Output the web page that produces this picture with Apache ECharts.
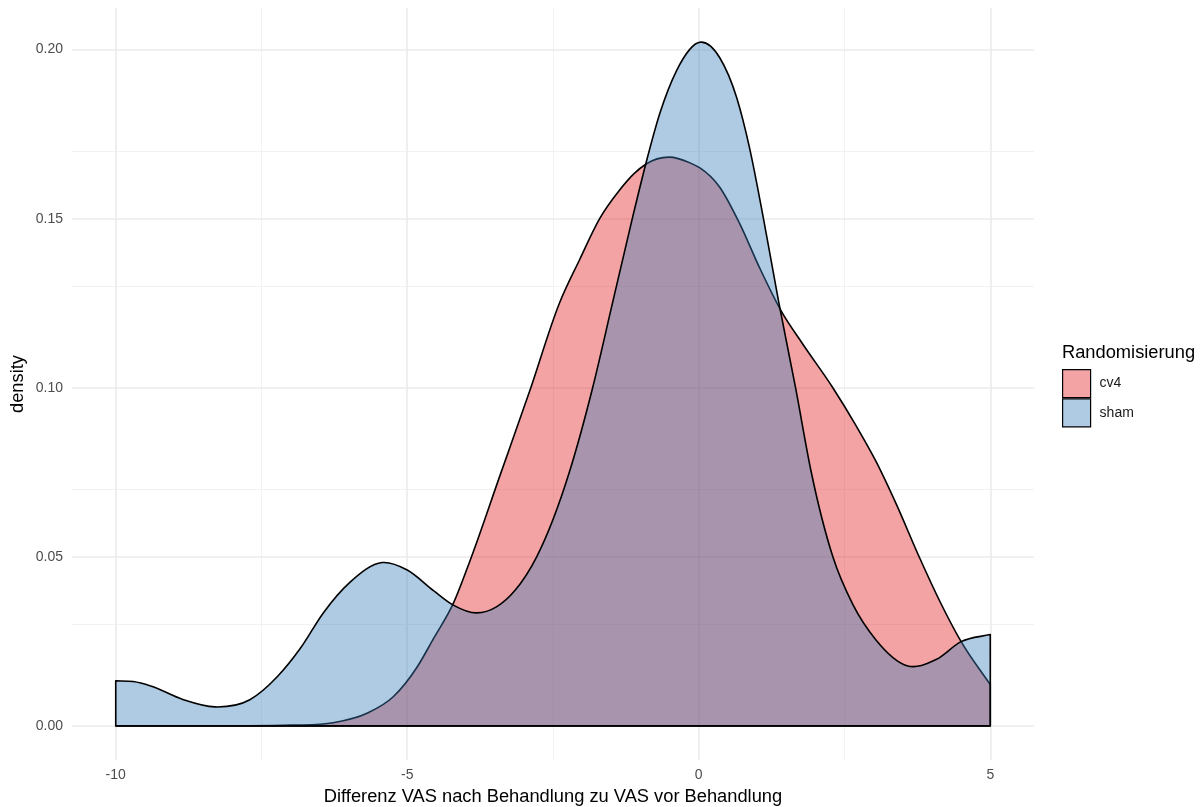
<!DOCTYPE html>
<html>
<head>
<meta charset="utf-8">
<script src="https://cdn.jsdelivr.net/npm/echarts@6/dist/echarts.min.js"></script>
<style>
html,body{margin:0;padding:0;background:#fff;overflow:hidden;}
#chart{width:1203px;height:807px;}
</style>
</head>
<body>
<div id="chart"></div>
<script>
// ---- data ----
const groups = ['cv4', 'sham'];
const xTicks = [-10, -5, 0, 5];
const xMinor = [-7.5, -2.5, 2.5];
const yTicks = [0, 0.05, 0.10, 0.15, 0.20];
const yMinor = [0.025, 0.075, 0.125, 0.175];

const cv4X = [-10, -8, -7, -6.27, -5.68, -5.24, -4.83, -4.55, -4.21, -3.92, -3.41, -2.90, -2.39, -2.04, -1.70, -1.36, -1.11, -0.91, -0.51, -0.15, 0.02, 0.36, 0.70, 1.04, 1.42, 1.78, 2.30, 2.70, 3.04, 3.39, 3.78, 4.13, 4.50, 5.0];
const cv4Y = [0.0000, 0.0000, 0.0002, 0.0009, 0.0038, 0.0086, 0.0174, 0.0258, 0.0362, 0.049, 0.074, 0.099, 0.125, 0.138, 0.150, 0.1584, 0.1633, 0.1661, 0.1682, 0.1665, 0.1650, 0.1593, 0.1486, 0.1356, 0.1225, 0.113, 0.100, 0.0887, 0.0782, 0.0655, 0.050, 0.037, 0.0249, 0.0122];

const shamX = [-10, -9.7, -9.4, -8.85, -8.3, -7.7, -7.23, -6.83, -6.44, -5.98, -5.43, -5.0, -4.55, -4.21, -3.81, -3.47, -3.15, -2.78, -2.22, -1.82, -1.48, -1.14, -0.91, -0.67, -0.38, 0.03, 0.36, 0.65, 0.87, 1.11, 1.375, 1.66, 1.93, 2.30, 2.64, 3.04, 3.57, 4.07, 4.50, 5.0];
const shamY = [0.0133, 0.0131, 0.0118, 0.0078, 0.0056, 0.0077, 0.0145, 0.023, 0.0334, 0.0425, 0.0483, 0.0461, 0.040, 0.0357, 0.0334, 0.0352, 0.0401, 0.050, 0.075, 0.100, 0.125, 0.150, 0.1661, 0.181, 0.1938, 0.2022, 0.1976, 0.1858, 0.171, 0.150, 0.125, 0.100, 0.075, 0.050, 0.036, 0.0254, 0.0178, 0.0196, 0.0249, 0.027];

const fillColors = {cv4: 'rgba(228,26,28,0.4)', sham: 'rgba(55,126,184,0.4)'};
const legendColors = {cv4: '#F4A3A4', sham: '#AFCBE3'};

// ---- build ----
const pairs = (xs, ys) => xs.map((x, i) => [x, ys[i]]);
const FONT = 'Liberation Sans, Arial, Helvetica, sans-serif';

// tangent (dy/dx) at each data point from its neighbours (three-point estimate)
function tangents(xs, ys) {
  const n = xs.length, m = new Array(n);
  for (let i = 0; i < n; i++) {
    if (i === 0) m[i] = (ys[1] - ys[0]) / (xs[1] - xs[0]);
    else if (i === n - 1) m[i] = (ys[n - 1] - ys[n - 2]) / (xs[n - 1] - xs[n - 2]);
    else {
      const h0 = xs[i] - xs[i - 1], h1 = xs[i + 1] - xs[i];
      const s0 = (ys[i] - ys[i - 1]) / h0, s1 = (ys[i + 1] - ys[i]) / h1;
      m[i] = (s0 * h1 + s1 * h0) / (h0 + h1);
    }
  }
  return m;
}

// closed density outline: baseline -> left edge -> smooth curve through data -> right edge -> baseline
function densityPath(api, xs, ys) {
  const m = tangents(xs, ys);
  const n = xs.length;
  const P = (x, y) => api.coord([x, y]);
  const f = v => v.toFixed(2);
  let p = P(xs[0], 0);
  let d = 'M' + f(p[0]) + ' ' + f(p[1]);
  p = P(xs[0], ys[0]);
  d += 'L' + f(p[0]) + ' ' + f(p[1]);
  for (let i = 0; i < n - 1; i++) {
    const h = xs[i + 1] - xs[i];
    const c1 = P(xs[i] + h / 3, ys[i] + m[i] * h / 3);
    const c2 = P(xs[i + 1] - h / 3, ys[i + 1] - m[i + 1] * h / 3);
    const e = P(xs[i + 1], ys[i + 1]);
    d += 'C' + f(c1[0]) + ' ' + f(c1[1]) + ' ' + f(c2[0]) + ' ' + f(c2[1]) + ' ' + f(e[0]) + ' ' + f(e[1]);
  }
  p = P(xs[n - 1], 0);
  d += 'L' + f(p[0]) + ' ' + f(p[1]) + 'Z';
  return d;
}

const series = [];

// panel grid lines (drawn beneath the densities)
series.push({
  name: '_grid', type: 'line', data: [], z: 0, silent: true,
  markLine: {
    z: 0, silent: true, symbol: ['none', 'none'], label: {show: false}, animation: false,
    data: [
      ...xMinor.map(v => ({xAxis: v, lineStyle: {color: '#EFEFEF', width: 0.8, type: 'solid'}})),
      ...yMinor.map(v => ({yAxis: v, lineStyle: {color: '#EFEFEF', width: 0.8, type: 'solid'}})),
      ...xTicks.map(v => ({xAxis: v, lineStyle: {color: '#EBEBEB', width: 1.6, type: 'solid'}})),
      ...yTicks.map(v => ({yAxis: v, lineStyle: {color: '#EBEBEB', width: 1.6, type: 'solid'}}))
    ]
  }
});

const dataSets = {cv4: [cv4X, cv4Y], sham: [shamX, shamY]};
groups.forEach((g, gi) => {
  const [xs, ys] = dataSets[g];
  series.push({
    name: g, type: 'custom', z: 2 + gi, silent: true,
    data: pairs(xs, ys), encode: {x: 0, y: 1},
    itemStyle: {color: legendColors[g]},
    renderItem: function (params, api) {
      if (params.dataIndex !== 0) return null;
      return {
        type: 'path',
        shape: {pathData: densityPath(api, xs, ys)},
        style: {fill: fillColors[g], stroke: '#000', lineWidth: 1.6, lineJoin: 'round'}
      };
    }
  });
});

const chart = echarts.init(document.getElementById('chart'), null, {renderer: 'canvas'});
chart.setOption({
  animation: false,
  backgroundColor: '#fff',
  textStyle: {fontFamily: FONT},
  grid: {left: 72, right: 169, top: 8, bottom: 47, containLabel: false, outerBoundsMode: 'none'},
  title: {
    text: 'Randomisierung', left: 1062, top: 344, padding: 0,
    textStyle: {fontFamily: FONT, fontSize: 18.3, fontWeight: 'normal', color: '#000'}
  },
  legend: {
    orient: 'vertical', left: 1062, top: 369, padding: 0, itemWidth: 28, itemHeight: 28, itemGap: 0,
    icon: 'rect', selectedMode: false,
    textStyle: {fontFamily: FONT, fontSize: 14, color: '#1A1A1A', padding: [0, 0, 0, 4]},
    data: groups.map(g => ({name: g, icon: 'rect', itemStyle: {color: legendColors[g], borderColor: '#000', borderWidth: 1.2}}))
  },
  xAxis: {
    type: 'value', min: -10.75, max: 5.75,
    name: 'Differenz VAS nach Behandlung zu VAS vor Behandlung', nameLocation: 'middle', nameGap: 28,
    nameMoveOverlap: false,
    nameTextStyle: {fontFamily: FONT, fontSize: 18.3, color: '#000'},
    axisLine: {show: false}, axisTick: {show: false}, splitLine: {show: false},
    axisLabel: {customValues: xTicks, fontFamily: FONT, fontSize: 14, color: '#4D4D4D', margin: 8}
  },
  yAxis: {
    type: 'value', min: -0.0101, max: 0.2123,
    name: 'density', nameLocation: 'middle', nameGap: 45, nameRotate: 90, nameMoveOverlap: false,
    nameTextStyle: {fontFamily: FONT, fontSize: 18.3, color: '#000'},
    axisLine: {show: false}, axisTick: {show: false}, splitLine: {show: false},
    axisLabel: {customValues: yTicks, fontFamily: FONT, fontSize: 14, color: '#4D4D4D', margin: 9,
      formatter: v => v.toFixed(2)}
  },
  series: series
});
</script>
</body>
</html>
